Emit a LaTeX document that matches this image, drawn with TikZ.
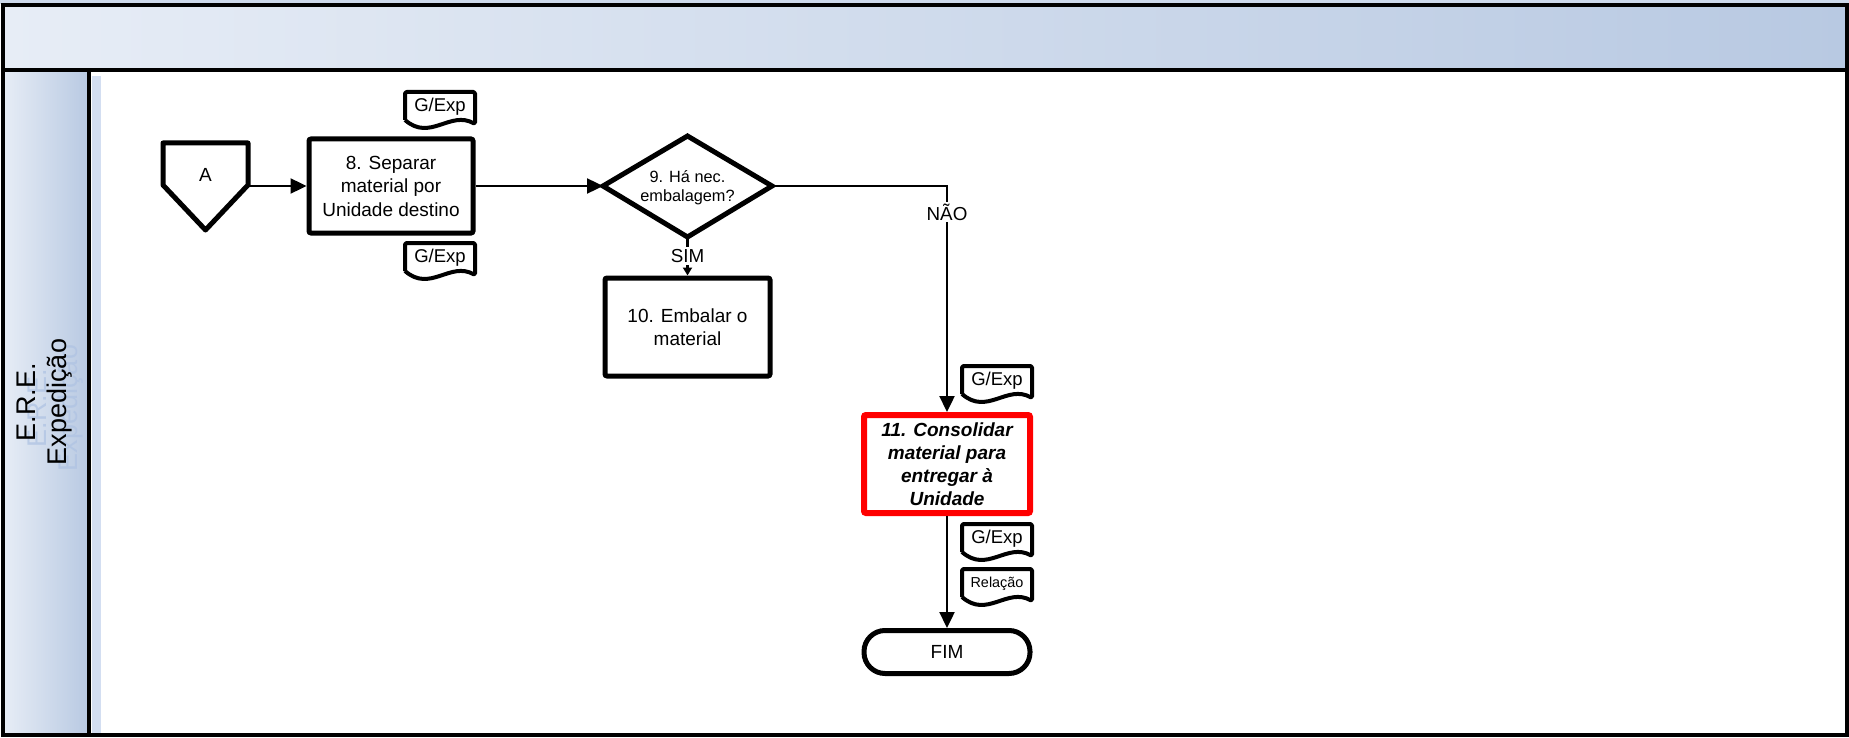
\documentclass[tikz,border=0pt]{standalone}
\usepackage{fontspec}
\setmainfont{Liberation Sans}
\usetikzlibrary{arrows.meta,calc}
\definecolor{hdrL}{HTML}{E7EDF6}
\definecolor{hdrM}{HTML}{C9D6EA}
\definecolor{hdrR}{HTML}{B8C9E2}
\definecolor{ghost}{HTML}{AFC3E3}
\definecolor{stripc}{HTML}{D3DEF1}
\newcommand\docframe[1]{%
  \draw[docline] ($(#1.center)+(-35,13)$) -- ($(#1.center)+(-35,-15)$) -- ($(#1.center)+(35,-15)$) -- ($(#1.center)+(35,17)$)
    .. controls ($(#1.center)+(10,3)$) and ($(#1.center)+(-10,35)$) .. ($(#1.center)+(-35,13)$);}
\begin{document}
\begin{tikzpicture}[x=1pt,y=-1pt,
  frameline/.style={draw=black, line width=4.5pt},
  box/.style={draw=black, line width=5pt, rounded corners=2pt, fill=white, align=center, inner sep=0pt,
    font=\fontsize{19}{23.5}\selectfont},
  redbox/.style={box, draw=red, line width=6pt, font=\fontsize{19}{23}\selectfont\bfseries\itshape},
  shapeline/.style={draw=black, line width=5pt, line join=round},
  txt/.style={inner sep=0pt, align=center, font=\fontsize{19}{23.5}\selectfont},
  dtxt/.style={inner sep=0pt, align=center, font=\fontsize{16.3}{19}\selectfont},
  doctext/.style={inner sep=0pt, font=\fontsize{18.5}{20}\selectfont},
  docsmall/.style={inner sep=0pt, font=\fontsize{14.4}{16}\selectfont},
  docline/.style={draw=black, line width=4pt, line join=round, rounded corners=1.5pt},
  lbl/.style={fill=white, inner sep=2pt, font=\fontsize{18.8}{20}\selectfont},
  conn/.style={line width=2.4pt},
  flow/.style={conn, -{Triangle[length=16pt,width=15pt]}},
  flowsmall/.style={conn, -{Triangle[length=8pt,width=9pt]}},
  term/.style={draw=black, line width=5pt, rounded corners=21pt, minimum width=166pt, minimum height=43pt,
    inner sep=0pt, font=\fontsize{19}{23}\selectfont}
]
\useasboundingbox (0,0) rectangle (1849,738);
\fill[white] (0,0) rectangle (1849,738);
\fill[hdrR!70] (0,0) rectangle (1849,4);
% pool header and lane label
\shade[left color=hdrL, middle color=hdrM, right color=hdrR] (3,5) rectangle (1847,70);
\shade[left color=hdrL, right color=hdrR] (3,70) rectangle (89,735);
\fill[stripc] (92,76) rectangle (101,733);
\node[txt, rotate=90, text=ghost, opacity=0.75, font=\fontsize{27}{31}\selectfont] (laneghost) at (56,408) {E.R.E.\\Expedição};
\node[txt, rotate=90, font=\fontsize{27}{31}\selectfont] (lane) at (45,402) {E.R.E.\\Expedição};
\draw[frameline] (3,5) rectangle (1847,735);
\draw[frameline] (3,70) -- (1847,70);
\draw[frameline] (89,70) -- (89,735);

% off-page connector A
\draw[shapeline] (163,143) -- (248,143) -- (248,185) -- (205.5,230) -- (163,185) -- cycle;
\node[txt] (A) at (205.5,175) {A};
\coordinate (Aout) at (248,186);

% step 8
\node[box, minimum width=164pt, minimum height=94pt] (b8) at (391,186) {8. Separar\\material por\\Unidade destino};
\node[doctext] (g1) at (440,107) {G/Exp};
\docframe{g1}
\node[doctext] (g2) at (440,258) {G/Exp};
\docframe{g2}

% decision 9
\coordinate (d9w) at (603,186);
\coordinate (d9n) at (687.5,136);
\coordinate (d9e) at (772,186);
\coordinate (d9s) at (687.5,237);
\draw[shapeline, line join=miter] (d9w) -- (d9n) -- (d9e) -- (d9s) -- cycle;
\node[dtxt] (d9) at (687.5,187.5) {9. Há nec.\\embalagem?};

% step 10
\node[box, minimum width=165pt, minimum height=98pt] (b10) at (687.5,327) {10. Embalar o\\material};

% step 11
\node[redbox, minimum width=166pt, minimum height=98pt] (b11) at (947,464) {11. Consolidar\\material para\\entregar à\\Unidade};
\node[doctext] (g3) at (997,381) {G/Exp};
\docframe{g3}
\node[doctext] (g4) at (997,539) {G/Exp};
\docframe{g4}
\node[docsmall] (rel) at (997,584) {Relação};
\docframe{rel}

% end
\node[term] (fim) at (947,652) {FIM};

% connectors
\draw[flow] (Aout) -- (b8.west);
\draw[flow] (b8.east) -- (d9w);
\coordinate (bend) at (947,186);
\draw[flow] (d9e) -- (bend) -- (b11.north);
\node[lbl] (nao) at (947,212) {NÃO};
\draw[flowsmall] (d9s) -- (b10.north);
\node[lbl] (sim) at (687.5,256) {SIM};
\draw[flow] (b11.south) -- (fim.north);
\end{tikzpicture}
\end{document}
